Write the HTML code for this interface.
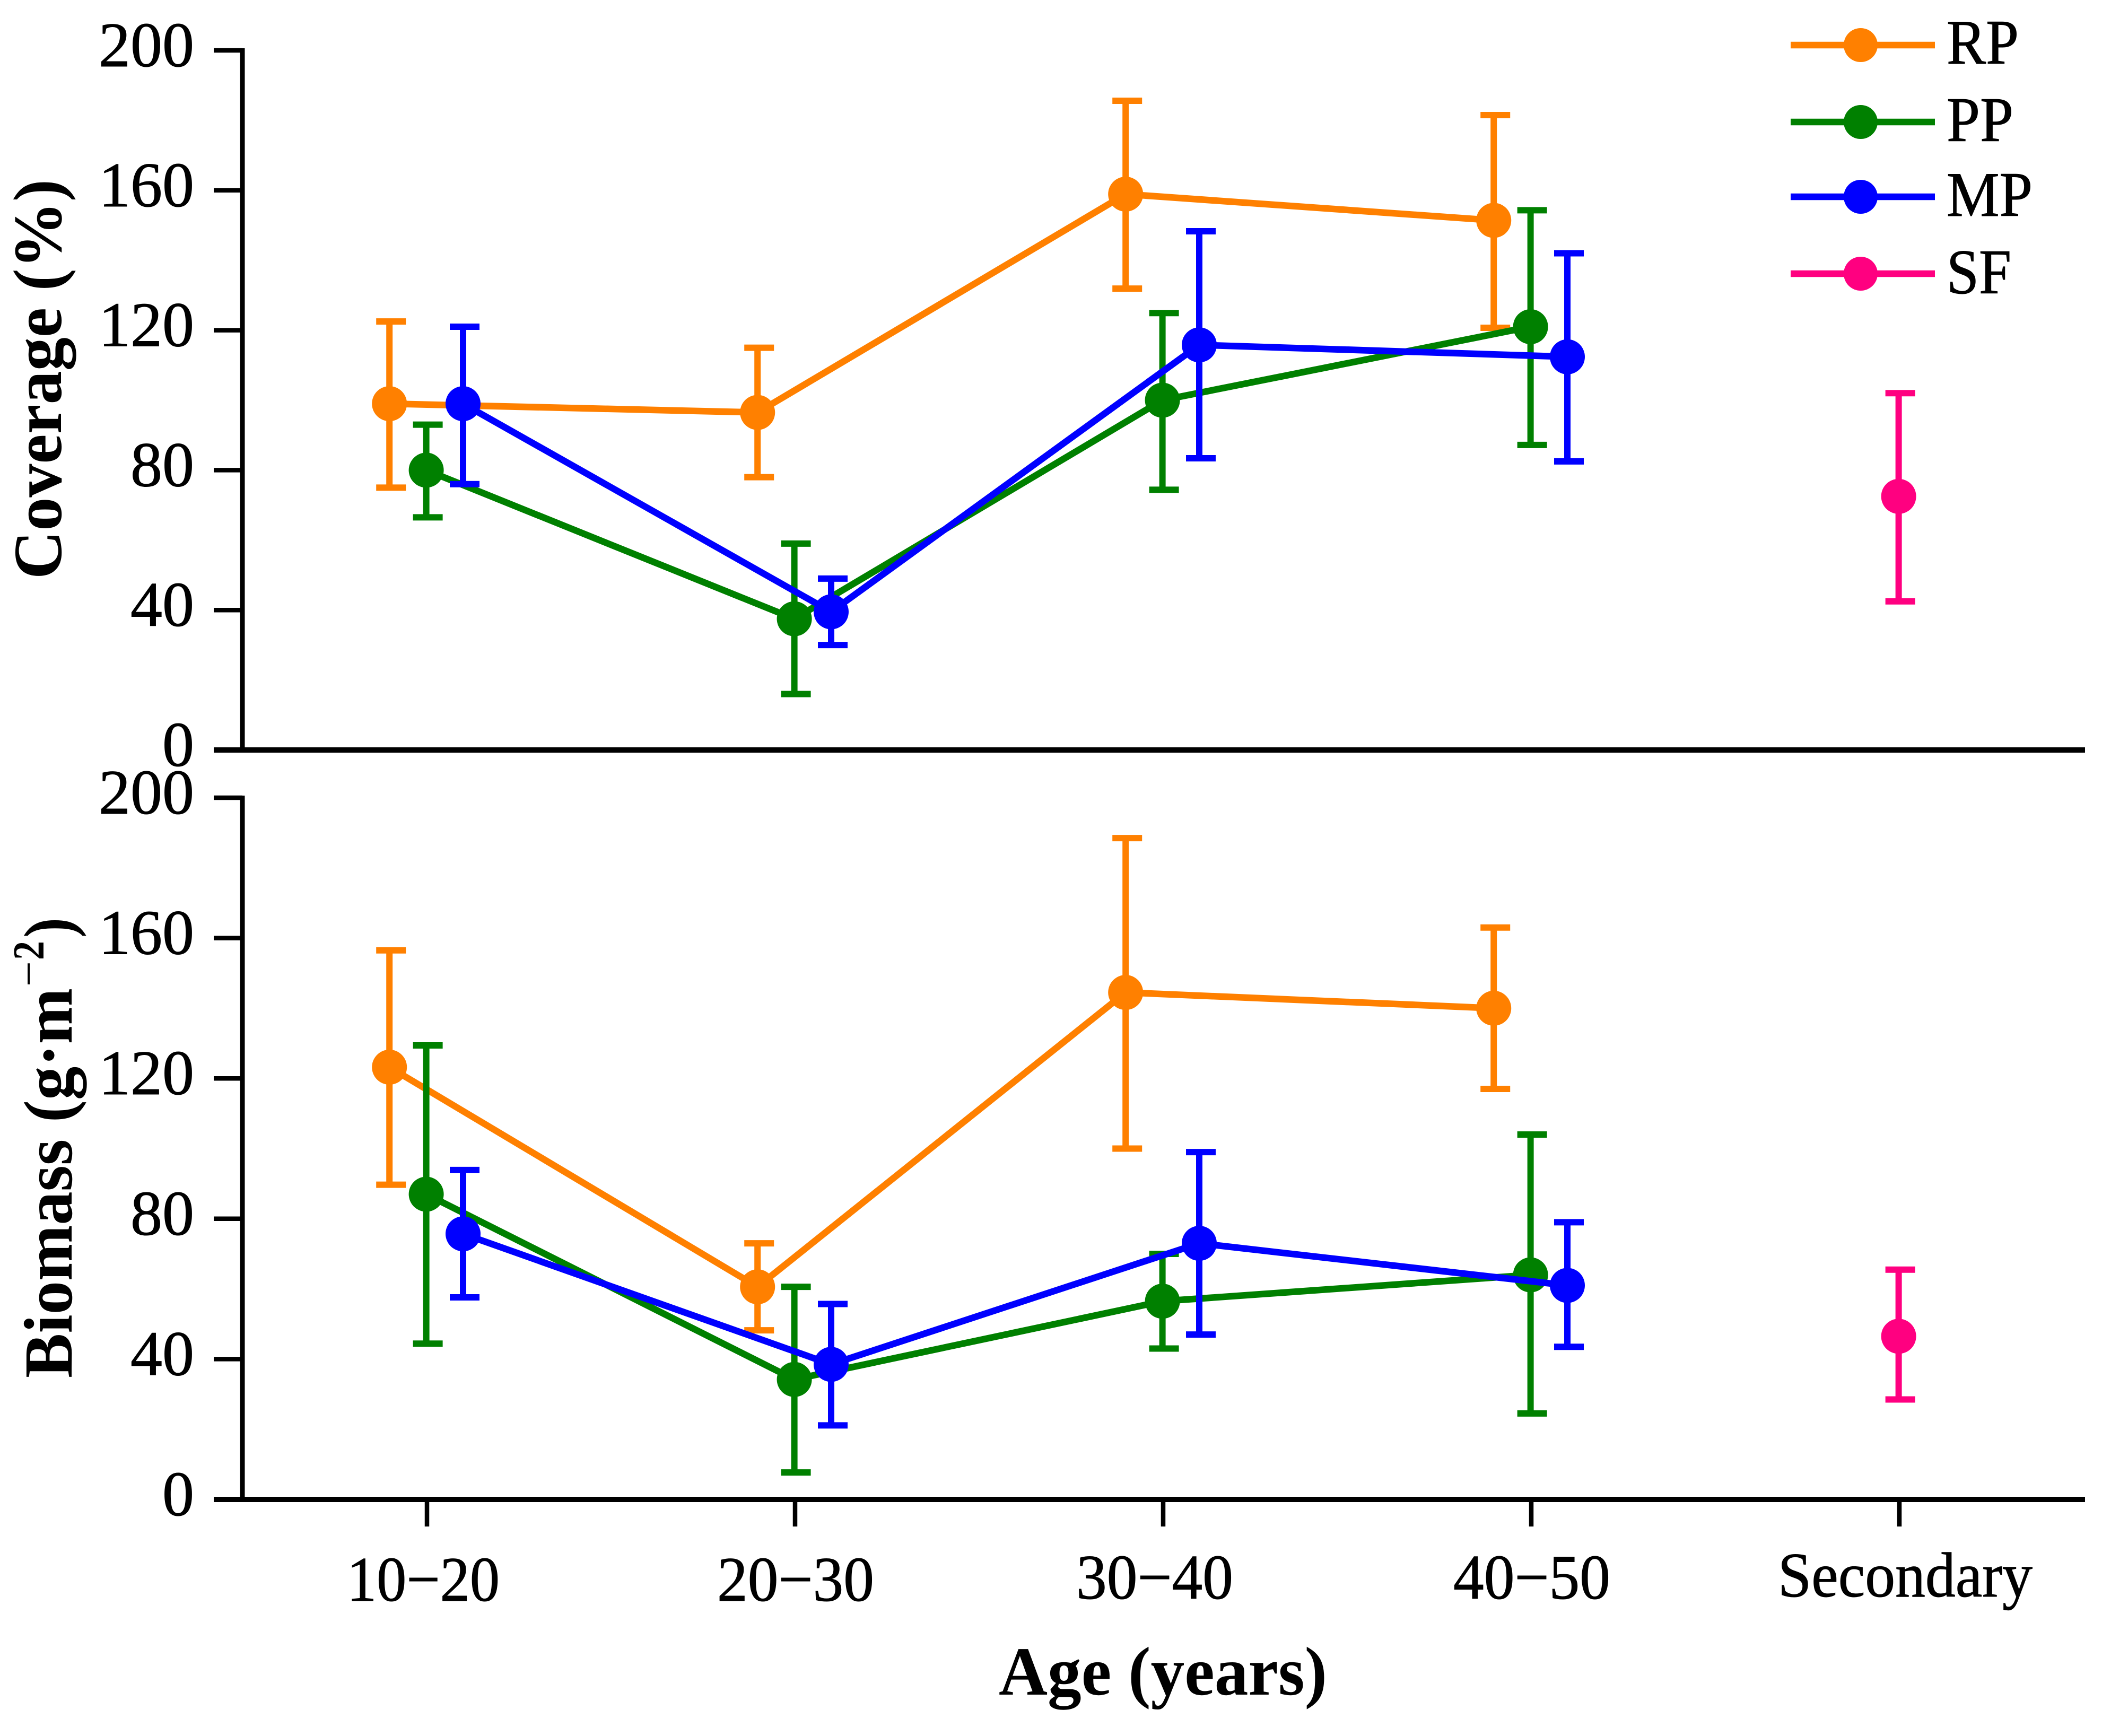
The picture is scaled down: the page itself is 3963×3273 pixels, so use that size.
<!DOCTYPE html>
<html lang="en">
<head>
<meta charset="utf-8">
<title>Coverage and biomass by age</title>
<style>
html,body{margin:0;padding:0;background:#fff;}
svg{display:block;}
text{font-family:"Liberation Serif","Times New Roman",serif;fill:#000;}
</style>
</head>
<body>
<svg id="chart" xmlns="http://www.w3.org/2000/svg" width="3963" height="3273" viewBox="0 0 3963 3273">
<rect x="0" y="0" width="3963" height="3273" fill="#fff"></rect>
<text transform="translate(115,1092) rotate(-90)" font-size="130" font-weight="bold" textLength="754" lengthAdjust="spacingAndGlyphs">Coverage (%)</text>
<g>
<text transform="translate(135,2598) rotate(-90)" font-size="130" font-weight="bold" textLength="735" lengthAdjust="spacingAndGlyphs">Biomass (g·m</text>
<text transform="translate(82,1860) rotate(-90)" font-size="84" textLength="48" lengthAdjust="spacingAndGlyphs">−</text>
<text transform="translate(82,1810) rotate(-90)" font-size="84" font-weight="bold" textLength="36" lengthAdjust="spacingAndGlyphs">2</text>
<text transform="translate(135,1768) rotate(-90)" font-size="130" font-weight="bold" textLength="38" lengthAdjust="spacingAndGlyphs">)</text>
</g>
<text x="1883" y="3195" font-size="130" font-weight="bold" textLength="619" lengthAdjust="spacingAndGlyphs">Age (years)</text>
</svg>
<script>
var categories = ['10−20', '20−30', '30−40', '40−50', 'Secondary'];
var yTickLabels = [0, 40, 80, 120, 160, 200];
var seriesNames = ['RP', 'PP', 'MP', 'SF'];

var coverageRP = [99, 96.5, 158.9, 151.4];
var coverageRPHigh = [122.5, 115, 185.6, 181.5];
var coverageRPLow = [75, 78, 131.9, 120.7];
var coveragePP = [80, 37.5, 100, 121];
var coveragePPHigh = [93, 59, 124.9, 154.3];
var coveragePPLow = [66.5, 16, 74.4, 87.2];
var coverageMP = [99, 39.5, 115.8, 112.4];
var coverageMPHigh = [121, 49, 148.3, 142];
var coverageMPLow = [76, 30, 83.4, 82.5];
var coverageSF = [72.5];
var coverageSFHigh = [102];
var coverageSFLow = [42.5];

var biomassRP = [123.2, 60.6, 144.5, 140];
var biomassRPHigh = [156.5, 73, 188.5, 163];
var biomassRPLow = [89.7, 48.2, 100, 117];
var biomassPP = [87, 34.2, 56.5, 64];
var biomassPPHigh = [129.4, 60.6, 70, 104];
var biomassPPLow = [44.4, 7.7, 43, 24.5];
var biomassMP = [75.7, 38.5, 73, 61];
var biomassMPHigh = [93.9, 55.7, 99, 79];
var biomassMPLow = [57.6, 21.1, 47, 43.5];
var biomassSF = [46.5];
var biomassSFHigh = [65.5];
var biomassSFLow = [28.5];

var NS = 'http://www.w3.org/2000/svg';
var svg = document.getElementById('chart');
var seriesColors = {RP: '#ff8000', PP: '#008000', MP: '#0000ff', SF: '#ff0080'};
var seriesOffsets = {RP: -0.102, PP: -0.002, MP: 0.098, SF: -0.002};
var seriesStart = {RP: 0, PP: 0, MP: 0, SF: 4};

function xScale(pos) { return 805 + 694 * pos; }
function yTop(v) { return 1414 - v * (1319 / 200); }
function yBottom(v) { return 2827 - v * (1323 / 200); }

function create(tag, attrs, parent) {
  var el = document.createElementNS(NS, tag);
  for (var k in attrs) { el.setAttribute(k, attrs[k]); }
  parent.appendChild(el);
  return el;
}

function drawLine(x1, y1, x2, y2, color, width, parent) {
  return create('line', {x1: x1, y1: y1, x2: x2, y2: y2, stroke: color, 'stroke-width': width}, parent);
}

function drawAxes(panel, yScale, axisEndY, withXTicks) {
  var group = create('g', {}, svg);
  
  
  var yAxis = drawLine(457, yScale(200) - 4, 457, axisEndY, '#000', 9, group);
  
  
  var xAxis = drawLine(403, axisEndY, 3931, axisEndY, '#000', 10, group);
  
  
  yTickLabels.forEach(function (v) {
    var y = yScale(v);
    if (v !== 0) {
      var tick = drawLine(403, y, 457, y, '#000', 8.5, group);
      
      
    }
    var label = create('text', {x: 366, y: y + 30, 'font-size': 120, 'text-anchor': 'end', stroke: '#000', 'stroke-width': 1}, group);
    label.textContent = String(v);
    
    
  });
  if (withXTicks) {
    categories.forEach(function (c, i) {
      var t = drawLine(xScale(i), axisEndY, xScale(i), 2878, '#000', 8.5, group);
      
      
    });
  }
}

function drawSeries(panel, name, means, highs, lows, yScale) {
  var color = seriesColors[name];
  var offset = seriesOffsets[name];
  var start = seriesStart[name];
  var group = create('g', {}, svg);
  
  
  if (means.length > 1) {
    var pts = means.map(function (v, i) { return xScale(start + i + offset) + ',' + yScale(v); }).join(' ');
    var line = create('polyline', {points: pts, fill: 'none', stroke: color, 'stroke-width': 12.5}, group);
    
    
  }
  means.forEach(function (v, i) {
    var x = xScale(start + i + offset);
    var bar = create('g', {}, group);
    
    
    drawLine(x, yScale(highs[i]), x, yScale(lows[i]), color, 12, bar);
    drawLine(x - 25, yScale(highs[i]), x + 31, yScale(highs[i]), color, 12, bar);
    drawLine(x - 25, yScale(lows[i]), x + 31, yScale(lows[i]), color, 12, bar);
    var dot = create('circle', {cx: x, cy: yScale(v), r: 33, fill: color}, group);
    
    
  });
}

drawAxes('coverage', yTop, 1414, false);
drawAxes('biomass', yBottom, 2827, true);

drawSeries('coverage', 'RP', coverageRP, coverageRPHigh, coverageRPLow, yTop);
drawSeries('coverage', 'PP', coveragePP, coveragePPHigh, coveragePPLow, yTop);
drawSeries('coverage', 'MP', coverageMP, coverageMPHigh, coverageMPLow, yTop);
drawSeries('coverage', 'SF', coverageSF, coverageSFHigh, coverageSFLow, yTop);

drawSeries('biomass', 'RP', biomassRP, biomassRPHigh, biomassRPLow, yBottom);
drawSeries('biomass', 'PP', biomassPP, biomassPPHigh, biomassPPLow, yBottom);
drawSeries('biomass', 'MP', biomassMP, biomassMPHigh, biomassMPLow, yBottom);
drawSeries('biomass', 'SF', biomassSF, biomassSFHigh, biomassSFLow, yBottom);

categories.forEach(function (c, i) {
  var isLast = i === categories.length - 1;
  var base = isLast ? 3010 : (i < 2 ? 3018 : 3014);
  var width = isLast ? 480 : (i === 0 ? 288 : 296);
  var centerShift = [-7, 1, -16, 1, 11][i];
  var label = create('text', {
    x: xScale(i) + centerShift,
    y: base,
    'font-size': 120,
    'text-anchor': 'middle',
    textLength: width,
    lengthAdjust: 'spacingAndGlyphs',
    stroke: '#000',
    'stroke-width': 1
  }, svg);
  label.textContent = c;
  
  
});

var legend = create('g', {}, svg);


var legendLineY = [85, 230, 371, 516];
var legendTextY = [120, 266, 407, 553];
var legendTextWidth = [136, 126, 162, 122];
seriesNames.forEach(function (name, i) {
  var entry = create('g', {}, legend);
  
  
  drawLine(3376, legendLineY[i], 3648, legendLineY[i], seriesColors[name], 12.5, entry);
  create('circle', {cx: 3508, cy: legendLineY[i], r: 32, fill: seriesColors[name]}, entry);
  var t = create('text', {x: 3670, y: legendTextY[i], 'font-size': 120, textLength: legendTextWidth[i], lengthAdjust: 'spacingAndGlyphs', stroke: '#000', 'stroke-width': 1}, entry);
  t.textContent = name;
  
  
});
</script>
</body>
</html>
